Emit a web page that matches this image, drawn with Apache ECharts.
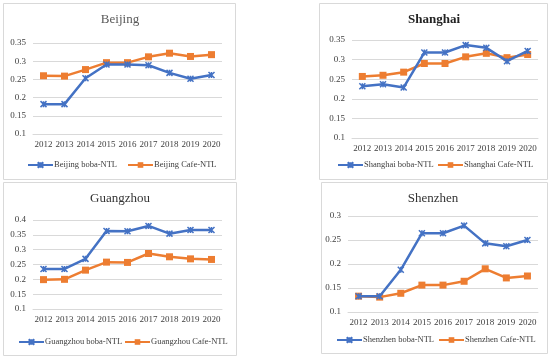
<!DOCTYPE html>
<html><head><meta charset="utf-8">
<script src="https://cdn.jsdelivr.net/npm/echarts@6/dist/echarts.min.js"></script>
<style>html,body{margin:0;padding:0;background:#fff}#c{width:550px;height:358px}</style>
</head><body><div id="c"></div>
<script>
var years = ['2012','2013','2014','2015','2016','2017','2018','2019','2020'];
var beijingBoba = [0.182,0.182,0.253,0.291,0.291,0.289,0.268,0.252,0.262];
var beijingCafe = [0.260,0.259,0.277,0.296,0.296,0.312,0.322,0.313,0.318];
var shanghaiBoba = [0.232,0.237,0.229,0.318,0.318,0.337,0.330,0.296,0.322];
var shanghaiCafe = [0.257,0.260,0.268,0.290,0.290,0.307,0.316,0.305,0.313];
var guangzhouBoba = [0.235,0.235,0.269,0.363,0.362,0.380,0.354,0.366,0.366];
var guangzhouCafe = [0.199,0.200,0.231,0.258,0.257,0.287,0.276,0.269,0.267];
var shenzhenBoba = [0.133,0.133,0.188,0.264,0.264,0.280,0.243,0.237,0.250];
var shenzhenCafe = [0.133,0.131,0.139,0.156,0.156,0.164,0.190,0.171,0.175];
var cities = ['Beijing','Shanghai','Guangzhou','Shenzhen'];
var yMins = [0.1,0.1,0.1,0.1];
var yMaxs = [0.35,0.35,0.4,0.3];

var BLUE = '#4472C4', ORANGE = '#ED7D31';
var FONT = '"Liberation Serif", "Times New Roman", serif';
var starPath = 'path://M0,0L10,10M10,0L0,10M5,0L5,10';

var grids = [
  {left:33, top:43, width:189, height:91},
  {left:352, top:40, width:186, height:98},
  {left:33, top:220, width:189, height:89},
  {left:348, top:216, width:190, height:96}
];
var boba = [beijingBoba, shanghaiBoba, guangzhouBoba, shenzhenBoba];
var cafe = [beijingCafe, shanghaiCafe, guangzhouCafe, shenzhenCafe];
var legendPos = [
  [{l:27,y:164},{l:127,y:164}],
  [{l:337,y:164},{l:437,y:164}],
  [{l:18,y:341},{l:124,y:341}],
  [{l:336,y:339},{l:438,y:339}]
];
var titlePos = [{x:120,y:20,w:'normal',c:'#595959'},{x:434,y:20,w:'bold',c:'#222'},{x:120,y:199,w:'normal',c:'#333'},{x:433,y:199,w:'normal',c:'#333'}];
var borders = [[3,3,232,176],[319,3,228,176],[3,182,233,173],[321,182,226,171]];

var xAxes = [], yAxes = [], series = [], legends = [], graphics = [];
for (var i = 0; i < 4; i++) {
  xAxes.push({type:'category', gridIndex:i, data:years, boundaryGap:true,
    axisLine:{show:true, lineStyle:{color:'#d9d9d9'}}, axisTick:{show:false},
    axisLabel:{interval:0, fontFamily:FONT, fontSize:9, color:'#404040', margin:6}});
  yAxes.push({type:'value', gridIndex:i, min:yMins[i], max:yMaxs[i], interval:0.05,
    axisLine:{show:false}, axisTick:{show:false},
    splitLine:{lineStyle:{color:'#d9d9d9'}},
    axisLabel:{fontFamily:FONT, fontSize:9, color:'#404040', margin:7}});
  var nb = cities[i] + ' boba-NTL', nc = cities[i] + ' Cafe-NTL';
  series.push({name:nb, type:'line', xAxisIndex:i, yAxisIndex:i, data:boba[i],
    symbol:starPath, symbolSize:6, lineStyle:{color:BLUE, width:2.5},
    itemStyle:{color:BLUE, borderColor:BLUE, borderWidth:1.5}, z:3});
  series.push({name:nc, type:'line', xAxisIndex:i, yAxisIndex:i, data:cafe[i],
    symbol:'rect', symbolSize:7, lineStyle:{color:ORANGE, width:2.5},
    itemStyle:{color:ORANGE}, z:2});
  legends.push({data:[nb], left:legendPos[i][0].l, top:legendPos[i][0].y-3.5, padding:0,
    itemWidth:25, itemHeight:7, itemGap:3,
    textStyle:{fontFamily:FONT, fontSize:8.5, color:'#404040', padding:[0,0,0,-4]}});
  legends.push({data:[nc], left:legendPos[i][1].l, top:legendPos[i][1].y-3.5, padding:0,
    itemWidth:25, itemHeight:7, itemGap:3,
    textStyle:{fontFamily:FONT, fontSize:8.5, color:'#404040', padding:[0,0,0,-4]}});
  var b = borders[i];
  graphics.push({type:'rect', shape:{x:b[0]+0.5, y:b[1]+0.5, width:b[2], height:b[3]}, z:-10,
    style:{fill:'none', stroke:'#d9d9d9', lineWidth:1}});
  var t = titlePos[i];
  graphics.push({type:'text', x:t.x, y:t.y, z:10,
    style:{text:cities[i], textAlign:'center', textVerticalAlign:'middle',
      font: t.w + ' 13px ' + FONT, fill:t.c}});
}

var chart = echarts.init(document.getElementById('c'), null, {renderer:'canvas'});
chart.setOption({
  animation:false, backgroundColor:'#fff',
  grid:grids, xAxis:xAxes, yAxis:yAxes, series:series, legend:legends, graphic:graphics
});
</script></body></html>
